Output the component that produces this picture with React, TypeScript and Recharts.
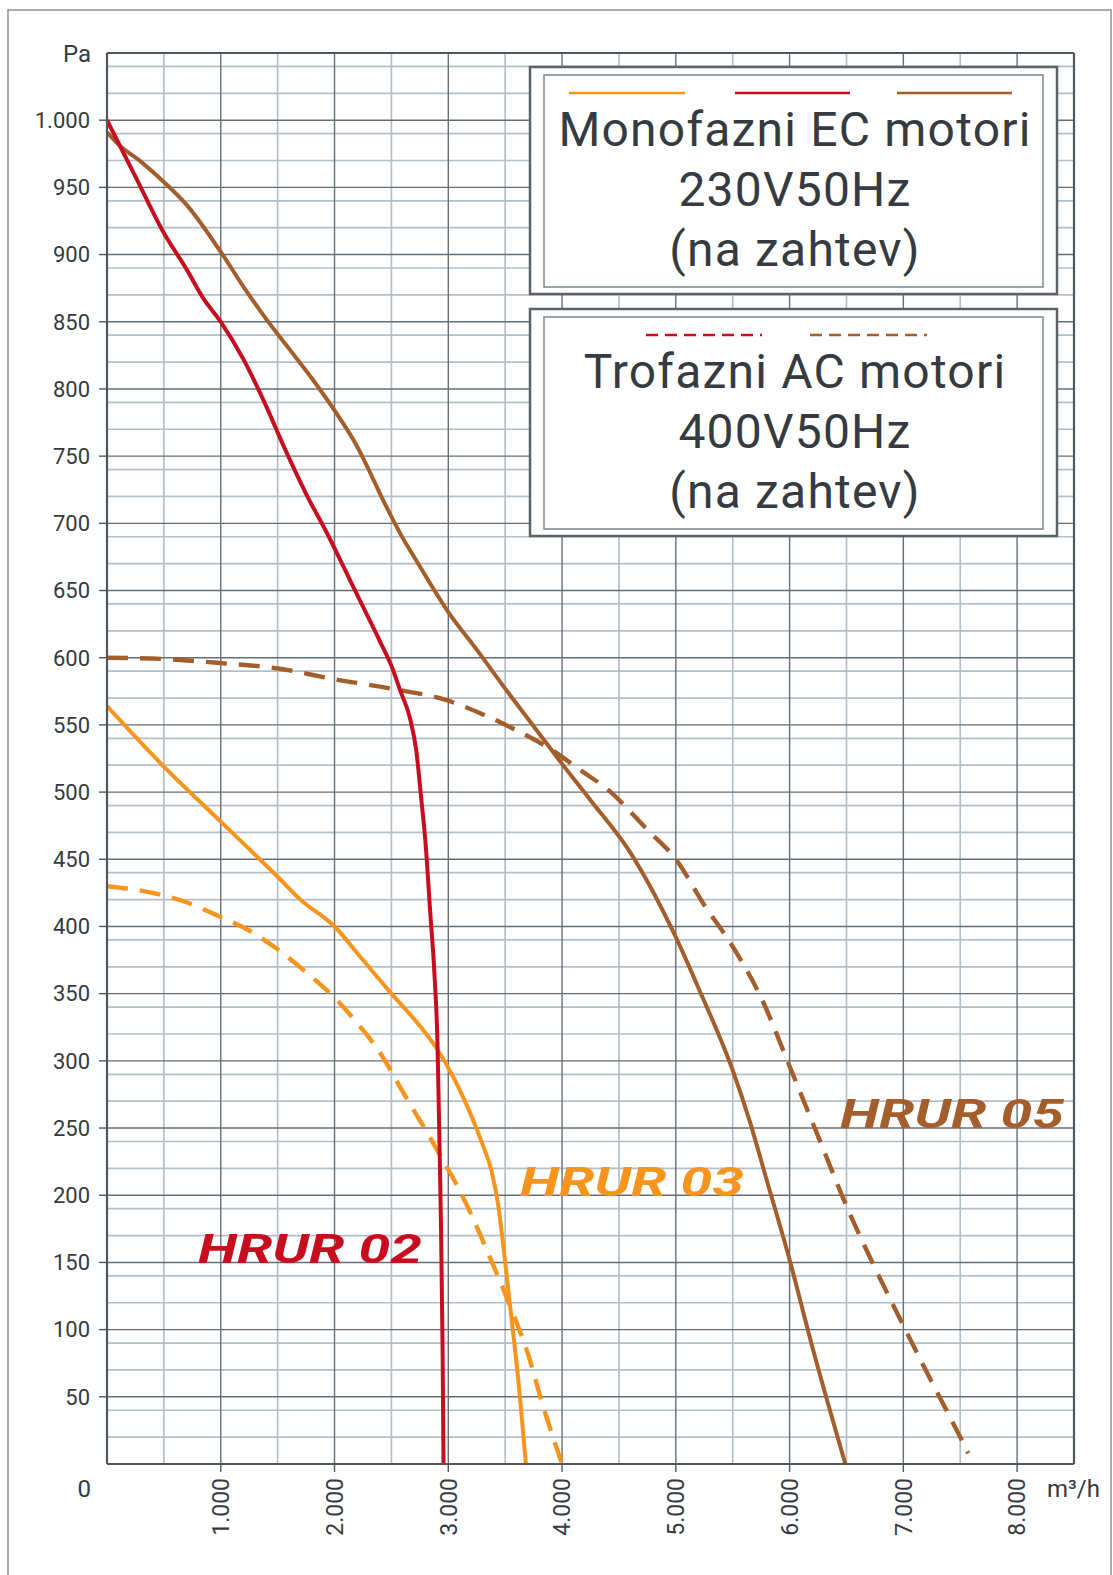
import React from "react";
import {
  LineChart,
  Line,
  XAxis,
  YAxis,
  CartesianGrid,
  ReferenceLine,
} from "recharts";

// HRUR 02 – EC
const flowRed = [0, 250, 500, 700, 850, 1000, 1200, 1400, 1550, 1750, 1950, 2100, 2250, 2400, 2500, 2580, 2660, 2720, 2760, 2800, 2840, 2880, 2905, 2920, 2935, 2950, 2958];
const pressRed = [1000, 958, 916, 889, 867, 850, 822, 787, 758, 722, 690, 664, 638, 612, 594, 575, 556, 530, 497, 462, 412, 362, 313, 250, 182, 84, 0];

// HRUR 03 – EC
const flowOrange = [0, 500, 1000, 1500, 1700, 2000, 2250, 2500, 2750, 2900, 3050, 3130, 3300, 3380, 3440, 3480, 3520, 3560, 3610, 3682];
const pressOrange = [564, 519, 478, 437, 420, 400, 375, 350, 326, 309, 287, 273, 238, 218, 192, 165, 135, 105, 67, 0];

// HRUR 03 – AC
const flowOrangeAc = [0, 400, 700, 1000, 1250, 1500, 1750, 2000, 2200, 2400, 2600, 2900, 3150, 3350, 3550, 3700, 3830, 4000];
const pressOrangeAc = [430, 425, 418, 407, 397, 383, 366, 347, 328, 306, 277, 234, 195, 157, 116, 82, 44, 0];

// HRUR 05 – EC
const flowBrown = [0, 100, 300, 500, 700, 1000, 1200, 1400, 1600, 1800, 2000, 2200, 2300, 2400, 2500, 2600, 2700, 3000, 3250, 3500, 3750, 4000, 4250, 4600, 5000, 5200, 5500, 5650, 5800, 6000, 6200, 6490];
const pressBrown = [991, 982, 969, 954, 937, 902, 876, 852, 830, 808, 784, 757, 740, 722, 705, 689, 675, 634, 606, 577, 549, 521, 494, 455, 392, 354, 293, 255, 211, 152, 87, 0];

// HRUR 05 – AC
const flowBrownAc = [0, 500, 1000, 1500, 2000, 2500, 3000, 3300, 3600, 3900, 4150, 4400, 4750, 5000, 5250, 5500, 5750, 6000, 6250, 6500, 6750, 7000, 7250, 7500, 7570];
const pressBrownAc = [600, 599, 596, 592, 584, 577, 568, 558, 546, 532, 517, 502, 472, 450, 416, 385, 347, 296, 244, 192, 146, 103, 61, 20, 8];

const xTicks = [1000, 2000, 3000, 4000, 5000, 6000, 7000, 8000];
const yTicks = [50, 100, 150, 200, 250, 300, 350, 400, 450, 500, 550, 600, 650, 700, 750, 800, 850, 900, 950, 1000];

const RED = "#c80d1f";
const ORANGE = "#f7941d";
const BROWN = "#a35e2c";
const TEXT = "#353b40";
const FONT = "Roboto, 'Noto Sans', sans-serif";

const minorY: number[] = [];
for (let v = 10; v < 1050; v += 10) if (v % 50 !== 0) minorY.push(v);
const majorY: number[] = [];
for (let v = 50; v <= 1000; v += 50) majorY.push(v);
const minorX = [500, 1500, 2500, 3500, 4500, 5500, 6500, 7500];

const toPoints = (xs: number[], ys: number[]) => xs.map((x, i) => ({ x, y: ys[i] }));

const fmt = (v: number) =>
  v >= 1000 ? `${Math.floor(v / 1000)}.${String(v % 1000).padStart(3, "0")}` : String(v);

const XTick = (props: any) => {
  const { x, y, payload } = props;
  return (
    <text
      transform={`translate(${x},${y + 4}) rotate(-90)`}
      textAnchor="end"
      dy="0.36em"
      fontSize={23}
      fill={TEXT}
      fontFamily={FONT}
    >
      {fmt(payload.value)}
    </text>
  );
};

type Sample = { x1: number; x2: number; color: string; dash?: string };

const LegendBox = ({ top, lines, samples }: { top: number; lines: string[]; samples: Sample[] }) => (
  <g>
    <rect x={530} y={top} width={527} height={227} fill="#fff" stroke="#5b6369" strokeWidth={2.5} />
    <rect x={544} y={top + 8} width={499} height={212} fill="#fff" stroke="#7d868c" strokeWidth={1.5} />
    {samples.map((d, i) => (
      <line
        key={i}
        x1={d.x1}
        x2={d.x2}
        y1={top + 26}
        y2={top + 26}
        stroke={d.color}
        strokeWidth={2.5}
        strokeDasharray={d.dash}
      />
    ))}
    {lines.map((t, i) => (
      <text
        key={t + i}
        x={795}
        y={top + 79 + i * 60}
        textAnchor="middle"
        fontSize={48}
        letterSpacing={1.2}
        fill={TEXT}
        fontFamily={FONT}
      >
        {t}
      </text>
    ))}
  </g>
);

export default function App() {
  return (
    <div style={{ position: "absolute", left: 0, top: 0, width: 1113, height: 1575, background: "#fff" }}>
      <LineChart
        width={1113}
        height={1575}
        margin={{ top: 53, right: 39, bottom: 51, left: 47 }}
        style={{ position: "absolute", left: 0, top: 0 }}
      >
        <CartesianGrid
          horizontalValues={minorY}
          verticalValues={minorX}
          stroke="#b3bfc8"
          strokeWidth={1.7}
        />
        <CartesianGrid
          horizontalValues={majorY}
          verticalValues={xTicks}
          stroke="#646e76"
          strokeWidth={1.4}
        />
        <XAxis
          type="number"
          dataKey="x"
          domain={[0, 8500]}
          ticks={xTicks}
          allowDataOverflow
          height={60}
          tickSize={8}
          tick={<XTick />}
          axisLine={{ stroke: "#4f575d", strokeWidth: 2.2 }}
          tickLine={{ stroke: "#4f575d", strokeWidth: 1.4 }}
        />
        <YAxis
          type="number"
          dataKey="y"
          domain={[0, 1050]}
          ticks={yTicks}
          allowDataOverflow
          width={60}
          tickSize={8}
          tickMargin={9}
          tickFormatter={fmt}
          tick={{ fontSize: 22, fill: TEXT, fontFamily: FONT }}
          axisLine={{ stroke: "#4f575d", strokeWidth: 2.2 }}
          tickLine={{ stroke: "#4f575d", strokeWidth: 1.4 }}
        />
        <ReferenceLine y={1050} stroke="#4f575d" strokeWidth={2.2} />
        <ReferenceLine x={8500} stroke="#4f575d" strokeWidth={2.2} />
        <Line data={toPoints(flowOrangeAc, pressOrangeAc)} dataKey="y" type="monotone" stroke={ORANGE} strokeWidth={4.4} strokeDasharray="21 12" dot={false} isAnimationActive={false} />
        <Line data={toPoints(flowBrownAc, pressBrownAc)} dataKey="y" type="monotone" stroke={BROWN} strokeWidth={4.4} strokeDasharray="21 12" dot={false} isAnimationActive={false} />
        <Line data={toPoints(flowOrange, pressOrange)} dataKey="y" type="monotone" stroke={ORANGE} strokeWidth={4} dot={false} isAnimationActive={false} />
        <Line data={toPoints(flowBrown, pressBrown)} dataKey="y" type="monotone" stroke={BROWN} strokeWidth={4} dot={false} isAnimationActive={false} />
        <Line data={toPoints(flowRed, pressRed)} dataKey="y" type="monotone" stroke={RED} strokeWidth={4} dot={false} isAnimationActive={false} />
      </LineChart>
      <svg width={1113} height={1575} style={{ position: "absolute", left: 0, top: 0, pointerEvents: "none" }}>
        <path d="M8,1575 V10 H1111 V1575" fill="none" stroke="#8a9196" strokeWidth={1.5} />
        <text x={91} y={62} textAnchor="end" fontSize={24} fill={TEXT} fontFamily={FONT}>Pa</text>
        <text x={91} y={1497} textAnchor="end" fontSize={24} fill={TEXT} fontFamily={FONT}>0</text>
        <text x={1047} y={1497} fontSize={24} fill={TEXT} fontFamily={FONT}>m³/h</text>
        <LegendBox
          top={67}
          lines={["Monofazni EC motori", "230V50Hz", "(na zahtev)"]}
          samples={[
            { x1: 569, x2: 685, color: ORANGE },
            { x1: 735, x2: 850, color: RED },
            { x1: 897, x2: 1012, color: BROWN },
          ]}
        />
        <LegendBox
          top={309}
          lines={["Trofazni AC motori", "400V50Hz", "(na zahtev)"]}
          samples={[
            { x1: 646, x2: 762, color: RED, dash: "12 7" },
            { x1: 810, x2: 927, color: BROWN, dash: "12 7" },
          ]}
        />
        <text x={198} y={1263} fontSize={41} fontWeight={700} fontStyle="italic" fill={RED} fontFamily={FONT} textLength={224} lengthAdjust="spacingAndGlyphs">HRUR 02</text>
        <text x={520} y={1196} fontSize={41} fontWeight={700} fontStyle="italic" fill={ORANGE} fontFamily={FONT} textLength={224} lengthAdjust="spacingAndGlyphs">HRUR 03</text>
        <text x={840} y={1128} fontSize={41} fontWeight={700} fontStyle="italic" fill={BROWN} fontFamily={FONT} textLength={224} lengthAdjust="spacingAndGlyphs">HRUR 05</text>
      </svg>
    </div>
  );
}
